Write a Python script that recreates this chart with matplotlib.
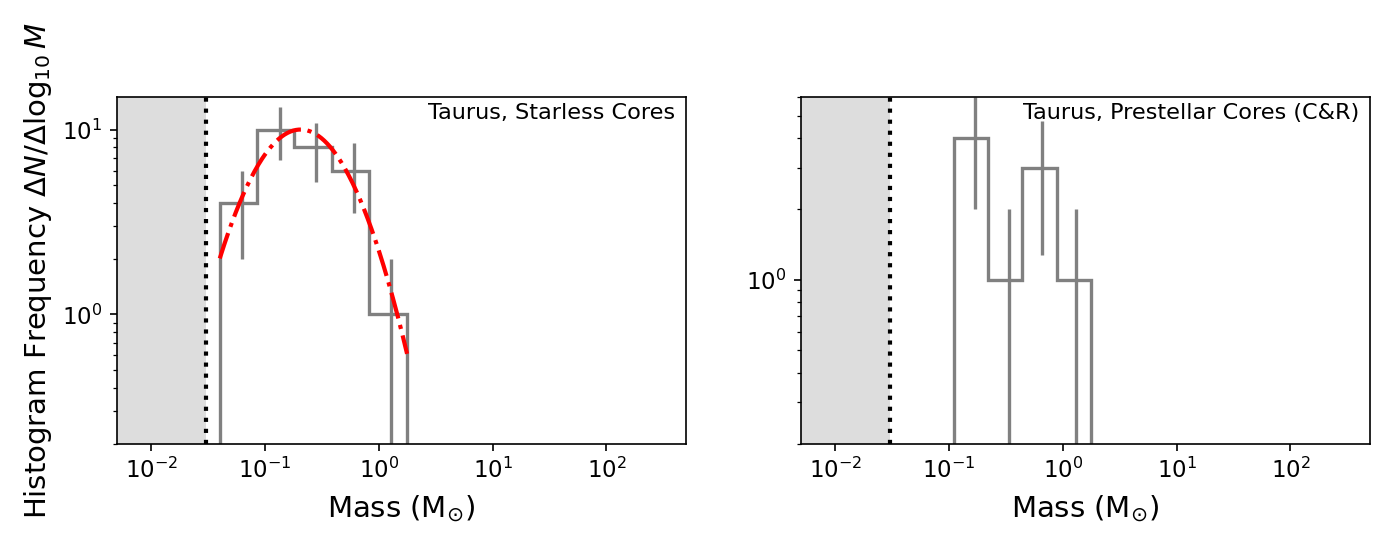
import numpy as np
import matplotlib
matplotlib.use("Agg")
import matplotlib.pyplot as plt
from matplotlib.ticker import NullLocator

# ---- data ----
# Left panel: Taurus starless cores
left_edges = [0.040, 0.0855, 0.178, 0.389, 0.826, 1.77]
left_counts = [4, 10, 8, 6, 1]
left_err_x = [0.0622, 0.134, 0.283, 0.606, 1.288]

# lognormal fit parameters (peak height, peak mass, width in dex)
fit_peak = 10.0
fit_mpeak = 0.205
fit_sigma_dex = 0.396
fit_range = [0.040, 1.77]

# Right panel: Taurus prestellar cores (C&R)
right_edges = [0.111, 0.222, 0.439, 0.889, 1.77]
right_counts = [4, 1, 3, 1]
right_err_x = [0.1675, 0.333, 0.661, 1.31]

completeness_limit = 0.03
x_range = [0.005, 500]
y_bottom = 0.2

panel_titles = ["Taurus, Starless Cores", "Taurus, Prestellar Cores (C&R)"]

# ---- figure ----
W, H, DPI = 1389, 544, 150
fig = plt.figure(figsize=(W / DPI, H / DPI), dpi=DPI)
bottom = 1 - 443.5 / H
top = 1 - 97 / H
ax1 = fig.add_axes([117 / W, bottom, (686 - 117) / W, top - bottom])
ax2 = fig.add_axes([801 / W, bottom, (1370 - 801) / W, top - bottom])

grey = "#808080"


def draw_panel(ax, edges, counts, err_x, title):
    counts = np.asarray(counts, dtype=float)
    ax.set_xscale("log")
    ax.set_yscale("log")
    ax.axvspan(x_range[0], completeness_limit, color="#dddddd", zorder=0, lw=0)
    ax.axvline(completeness_limit, color="black", ls=":", lw=2, zorder=3)
    ax.stairs(counts, edges, baseline=1e-3, color=grey, lw=1.6, zorder=2)
    ax.errorbar(err_x, counts, yerr=np.sqrt(counts), fmt="none",
                ecolor=grey, elinewidth=1.6, capsize=0, zorder=2)
    ax.set_xlim(*x_range)
    ax.set_ylim(y_bottom, 1.5 * counts.max())
    ax.xaxis.set_minor_locator(NullLocator())
    ax.tick_params(labelsize=11)
    ax.set_xlabel(r"Mass (M$_{\odot}$)", fontsize=14, labelpad=5)
    ax.text(0.981, 0.982, title, transform=ax.transAxes, ha="right",
            va="top", fontsize=10.75)


draw_panel(ax1, left_edges, left_counts, left_err_x, panel_titles[0])
draw_panel(ax2, right_edges, right_counts, right_err_x, panel_titles[1])

# lognormal fit curve
m = np.logspace(np.log10(fit_range[0]), np.log10(fit_range[1]), 200)
fit = fit_peak * np.exp(-(np.log10(m) - np.log10(fit_mpeak)) ** 2
                        / (2 * fit_sigma_dex ** 2))
ax1.plot(m, fit, color="red", ls="-.", lw=2, zorder=4)

ax1.set_ylabel(r"Histogram Frequency $\Delta N/\Delta \log_{10}M$", fontsize=14)

fig.savefig("out.png", dpi=DPI)
